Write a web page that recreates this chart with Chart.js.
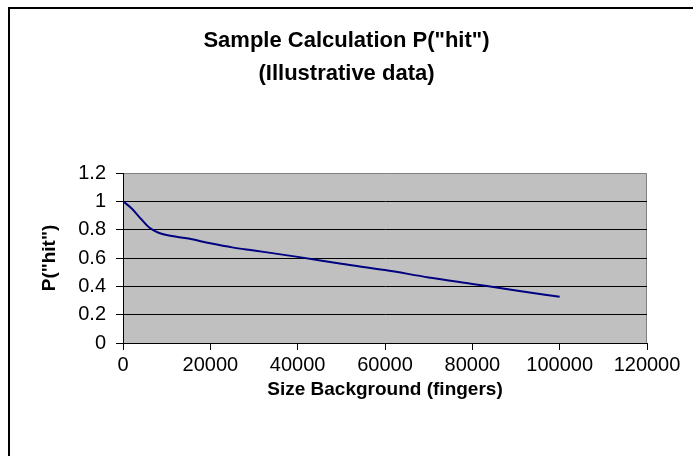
<!doctype html><html><head><meta charset="utf-8">
<title>Sample Calculation P("hit")</title>
<script src="https://cdn.jsdelivr.net/npm/chart.js"></script>
<style>
  html, body { margin: 0; padding: 0; background: #fff; overflow: hidden; }
  .frame { position: absolute; left: 8px; top: 7px; width: 2000px; height: 2000px;
           border-left: 2px solid #000; border-top: 2px solid #000; pointer-events: none; }
  .wrap { position: absolute; left: 0; top: 0; width: 693px; height: 456px; }
</style>
</head><body>
<div class="frame"></div>
<div class="wrap"><canvas id="hitChart"></canvas></div>
<script>
  // (illustrative data)
  const sizes = [0, 2000, 4000, 6000, 8000, 10000, 15000, 20000, 25000, 30000, 40000, 50000, 60000, 70000, 80000, 90000, 100000];
  const phit  = [1.0, 0.95, 0.88, 0.815, 0.78, 0.762, 0.737, 0.704, 0.675, 0.653, 0.608, 0.559, 0.515, 0.463, 0.417, 0.371, 0.326];
  const titleLines = ['Sample Calculation P("hit")', '(Illustrative data)'];
  const xTitle = 'Size Background (fingers)';
  const yTitle = 'P("hit")';

  const FONT = '"Liberation Sans", Arial, sans-serif';

  const plotBg = {
    id: 'plotBg',
    beforeDraw(chart) {
      const { ctx, chartArea: a } = chart;
      ctx.save();
      ctx.fillStyle = '#c0c0c0';
      ctx.fillRect(a.left, a.top, a.right - a.left, a.bottom - a.top);
      ctx.strokeStyle = '#808080';
      ctx.lineWidth = 1;
      ctx.beginPath();
      ctx.moveTo(a.left, a.top + 0.5);
      ctx.lineTo(a.right - 0.5, a.top + 0.5);
      ctx.lineTo(a.right - 0.5, a.bottom);
      ctx.stroke();
      ctx.restore();
    }
  };

  new Chart(document.getElementById('hitChart'), {
    type: 'line',
    data: {
      datasets: [{
        data: sizes.map((s, i) => ({ x: s, y: phit[i] })),
        borderColor: '#000080',
        borderWidth: 2,
        pointRadius: 0,
        cubicInterpolationMode: 'monotone',
        fill: false
      }]
    },
    options: {
      responsive: true,
      maintainAspectRatio: false,
      animation: false,
      layout: { padding: 0 },
      plugins: {
        legend: { display: false },
        tooltip: { enabled: false },
        title: {
          display: true,
          text: titleLines,
          color: '#000',
          font: { family: FONT, size: 22, weight: 'bold', lineHeight: 1.5 },
          padding: { top: 24, bottom: 83 }
        }
      },
      scales: {
        x: {
          type: 'linear',
          min: 0, max: 120000,
          ticks: { stepSize: 20000, color: '#000', font: { family: FONT, size: 20 }, padding: 3, maxRotation: 0,
                   callback: v => String(v) },
          grid: { drawOnChartArea: false, color: '#000', tickColor: '#000', tickLength: 7 },
          border: { color: '#000' },
          title: { display: true, text: xTitle, color: '#000',
                   font: { family: FONT, size: 19, weight: 'bold' }, padding: { top: 0, bottom: 55 } },
          afterFit(s) { s.height = 113; }
        },
        y: {
          min: 0, max: 1.2,
          ticks: { stepSize: 0.2, color: '#000', font: { family: FONT, size: 20 }, padding: 10,
                   callback: v => String(Math.round(v * 10) / 10) },
          grid: {
            color: c => (c.tick && Math.abs(c.tick.value - 1.2) < 1e-6) ? 'rgba(0,0,0,0)' : '#000',
            tickColor: '#000', tickLength: 7
          },
          border: { color: '#000' },
          title: { display: true, text: yTitle, color: '#000',
                   font: { family: FONT, size: 19, weight: 'bold' }, padding: { top: 38, bottom: 0 } },
          afterFit(s) { s.width = 123; }
        },
        y2: {
          position: 'right',
          display: true,
          grid: { display: false },
          ticks: { display: false },
          border: { display: false },
          afterFit(s) { s.width = 46; }
        }
      }
    },
    plugins: [plotBg]
  });
</script>
</body></html>
